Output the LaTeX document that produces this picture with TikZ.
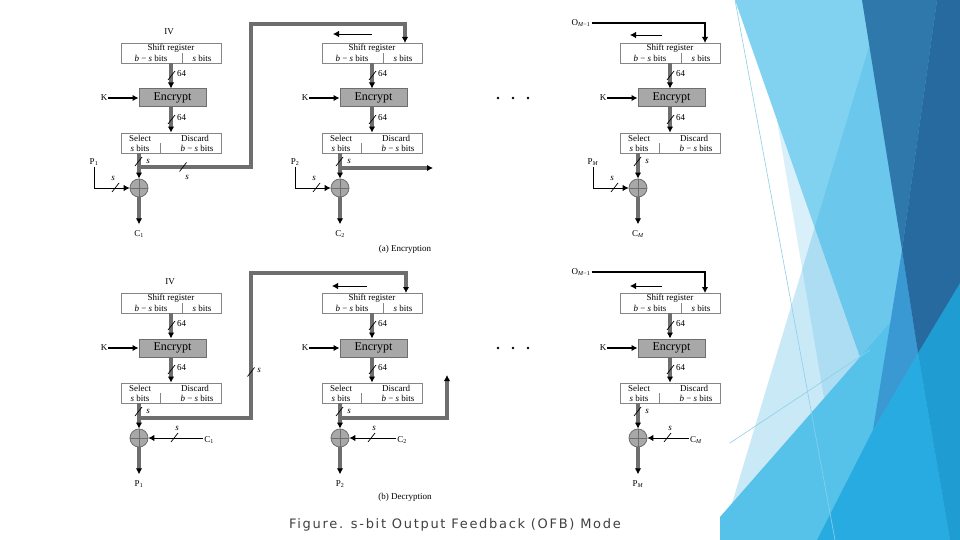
\documentclass[tikz,border=0pt]{standalone}
\usepackage{fontspec}
\setmainfont{Liberation Serif}
\newfontfamily\capfont[LetterSpace=13]{DejaVu Sans}
\usetikzlibrary{arrows.meta}

\definecolor{pathgray}{HTML}{6E6E6E}
\definecolor{boxgray}{HTML}{858585}
\definecolor{encgray}{HTML}{A8A8A8}
\definecolor{captiongray}{HTML}{404040}
\definecolor{facetlight}{HTML}{80D2F0}
\definecolor{facetblue}{HTML}{2DA9E1}
\definecolor{facetmid}{HTML}{56C2EA}
\definecolor{facetsea}{HTML}{28ABE0}
\definecolor{facetviolet}{HTML}{3A98D3}
\definecolor{facetdeep}{HTML}{1F9CD1}
\definecolor{facetdark}{HTML}{2E78AB}
\definecolor{facetdarker}{HTML}{266A9F}
\definecolor{facetline}{HTML}{8CCFEA}

\tikzset{
  regbox/.style={draw=boxgray, line width=0.8pt, fill=white, minimum width=100, minimum height=20, inner sep=0pt},
  encbox/.style={draw=pathgray, line width=1pt, fill=encgray, minimum width=67, minimum height=18, inner sep=0pt, font=\fontsize{12}{12}\selectfont},
  xorgate/.style={circle, draw=pathgray, fill=encgray, minimum size=18, inner sep=0pt, line width=0.8pt},
  crossline/.style={pathgray, line width=0.6pt},
  divider/.style={boxgray, line width=0.7pt},
  datapath/.style={draw=pathgray, line width=3.2pt},
  feedline/.style={draw=black, line width=0.9pt},
  karrow/.style={draw=black, line width=1.3pt},
  oline/.style={draw=black, line width=1.6pt},
  arrowed/.style={-{Latex[length=6pt,width=6.5pt,color=black]}},
  slash/.style={black, line width=0.7pt},
  small/.style={font=\fontsize{9}{9}\selectfont, inner sep=0pt},
  txt/.style={font=\fontsize{9}{10}\selectfont, inner sep=1pt},
}

\begin{document}
\begin{tikzpicture}[x=1pt,y=-1pt]
\useasboundingbox (0,0) rectangle (960,540);
\fill[white] (0,0) rectangle (960,540);

\fill[facetlight] (735,0) -- (960,0) -- (960,540) -- (924,540) -- cycle;
\fill[facetblue, opacity=0.25] (883,0) -- (960,0) -- (960,540) -- (721,540) -- cycle;
\fill[facetblue, opacity=0.18] (777,120) -- (924,540) -- (848,540) -- cycle;
\fill[facetmid] (720,517) -- (960,243) -- (960,540) -- (720,540) -- cycle;
\fill[facetsea] (817,540) -- (873,430) -- (918,353) -- (950,540) -- cycle;
\fill[facetviolet] (902,250) -- (918,353) -- (873,430) -- cycle;
\fill[facetdeep] (918,353) -- (960,283) -- (960,540) -- (950,540) -- cycle;
\fill[facetdark] (862,0) -- (937,0) -- (902,250) -- cycle;
\fill[facetdarker] (937,0) -- (960,0) -- (960,283) -- (918,353) -- (902,250) -- cycle;
\draw[facetline, line width=0.6pt] (735,0) -- (835,540);
\draw[facetline, line width=0.6pt] (730,443) -- (870,350);

\foreach \r/\dy/\outl in {a/0/C,b/250/P}{
\foreach \c/\L/\sub in {1/121/1,2/322/2,3/620/\textit{M}}{
  \node[regbox] (sr\r\c) at (\L+50,53+\dy) {};
  \node[small] (srt\r\c) at (\L+50,48+\dy) {Shift register};
  \node[small] (srl\r\c) at (\L+30,58+\dy) {\textit{b} − \textit{s} bits};
  \node[small] (srr\r\c) at (\L+81,58+\dy) {\textit{s} bits};
  \draw[divider] (\L+61,53+\dy) -- (\L+61,63+\dy);
  \node[encbox] (enc\r\c) at (\L+51.5,98+\dy) {Encrypt};
  \node[txt] (k\r\c) at (\L-17,98+\dy) {K};
  \draw[karrow, arrowed] (k\r\c) -- (enc\r\c);
  \node[regbox] (sel\r\c) at (\L+50,143+\dy) {};
  \node[small] (selt\r\c) at (\L+19,138+\dy) {Select};
  \node[small] (dist\r\c) at (\L+74,138+\dy) {Discard};
  \node[small] (sels\r\c) at (\L+19,148+\dy) {\textit{s} bits};
  \node[small] (disb\r\c) at (\L+76,148+\dy) {\textit{b} − \textit{s} bits};
  \draw[divider] (\L+39,143+\dy) -- (\L+39,153+\dy);
  \draw[datapath, arrowed] (sr\r\c.south) -- (sr\r\c.south |- enc\r\c.north);
  \draw[slash] (\L+47,80+\dy) -- ++(7,-9);
  \node[txt, anchor=west] (wa\r\c) at (\L+55,74+\dy) {64};
  \draw[datapath, arrowed] (sr\r\c.south |- enc\r\c.south) -- (sr\r\c.south |- sel\r\c.north);
  \draw[slash] (\L+47,124+\dy) -- ++(7,-9);
  \node[txt, anchor=west] (wb\r\c) at (\L+55,118+\dy) {64};
  \node[xorgate] (xor\r\c) at (\L+18,188+\dy) {};
  \draw[crossline] (xor\r\c.north) -- (xor\r\c.south) (xor\r\c.west) -- (xor\r\c.east);
  \draw[datapath, arrowed] (sel\r\c.south -| xor\r\c) -- (xor\r\c.north);
  \draw[slash] (\L+14,166+\dy) -- ++(7,-9);
  \node[txt] (ss\r\c) at (\L+27,161+\dy) {\textit{s}};
  \node[txt] (out\r\c) at (\L+18,234+\dy) {\outl\textsubscript{\sub}};
  \draw[datapath, arrowed, shorten >=5pt] (xor\r\c.south) -- (out\r\c.north);
}}

\foreach \c/\L/\sub/\cx in {1/121/1/88,2/322/2/80,3/620/\textit{M}/76}{
  \node[txt] (ina\c) at (\L-27,162) {P\textsubscript{\sub}};
  \draw[feedline, arrowed] (ina\c.south) |- (xora\c.west);
  \draw[slash] (\L-9,192) -- ++(7,-9);
  \node[txt] (sia\c) at (\L-8,178) {\textit{s}};
  \node[txt] (inb\c) at (\L+\cx,440) {C\textsubscript{\sub}};
  \draw[feedline, arrowed] (inb\c.west |- xorb\c) -- (xorb\c.east);
  \draw[slash] (\L+\cx/2+6,442) -- ++(7,-9);
  \node[txt] (sib\c) at (\L+\cx/2+12,428) {\textit{s}};
}

\node[txt] (iva) at (169,32) {IV};
\node[txt] (ivb) at (170,282) {IV};

\coordinate (brancha1) at (139,167);
\coordinate (upa) at (251,24);
\coordinate (feeda2) at (405,43);
\draw[datapath, arrowed] (brancha1) -| (upa) -| (feeda2);
\draw[slash] (179.5,171.5) -- ++(7,-9);
\node[txt] (sfa) at (187,177) {\textit{s}};
\coordinate (brancha2) at (340,168);
\coordinate (enda2) at (433,168);
\draw[datapath, arrowed] (brancha2) -- (enda2);

\coordinate (branchb1) at (139,418);
\coordinate (upb) at (251,273);
\coordinate (feedb2) at (406,293);
\draw[datapath, arrowed] (branchb1) -| (upb) -| (feedb2);
\draw[slash] (247.5,376.5) -- ++(7,-9);
\node[txt] (sfb) at (259,370) {\textit{s}};
\coordinate (branchb2) at (340,418);
\coordinate (endb2) at (447,375);
\draw[datapath, arrowed] (branchb2) -| (endb2);

\node[txt] (oma) at (581,23) {O\textsubscript{\textit{M}−1}};
\coordinate (feeda3) at (705,43);
\draw[oline, arrowed] (oma.east) -| (feeda3);
\node[txt] (omb) at (581,272) {O\textsubscript{\textit{M}−1}};
\coordinate (feedb3) at (705,293);
\draw[oline, arrowed] (omb.east) -| (feedb3);

\foreach \x/\y/\u in {372/34/333,662/35/630,367/286/332,662/286/630}{
  \coordinate (shf\x\y) at (\x,\y);
  \coordinate (sht\x\y) at (\u,\y);
  \draw[feedline, arrowed] (shf\x\y) -- (sht\x\y);
}

\foreach \y in {98,348}{
  \foreach \x in {498,513,528}{\fill (\x,\y) circle [radius=1.3pt];}
}

\node[txt] (capa) at (405,249) {(a) Encryption};
\node[txt] (capb) at (405,497) {(b) Decryption};

\node[font=\capfont\fontsize{13}{15}\selectfont, text=captiongray, inner sep=0pt] (caption) at (455,525) {Figure. s-bit Output Feedback (OFB) Mode};
\end{tikzpicture}
\end{document}
